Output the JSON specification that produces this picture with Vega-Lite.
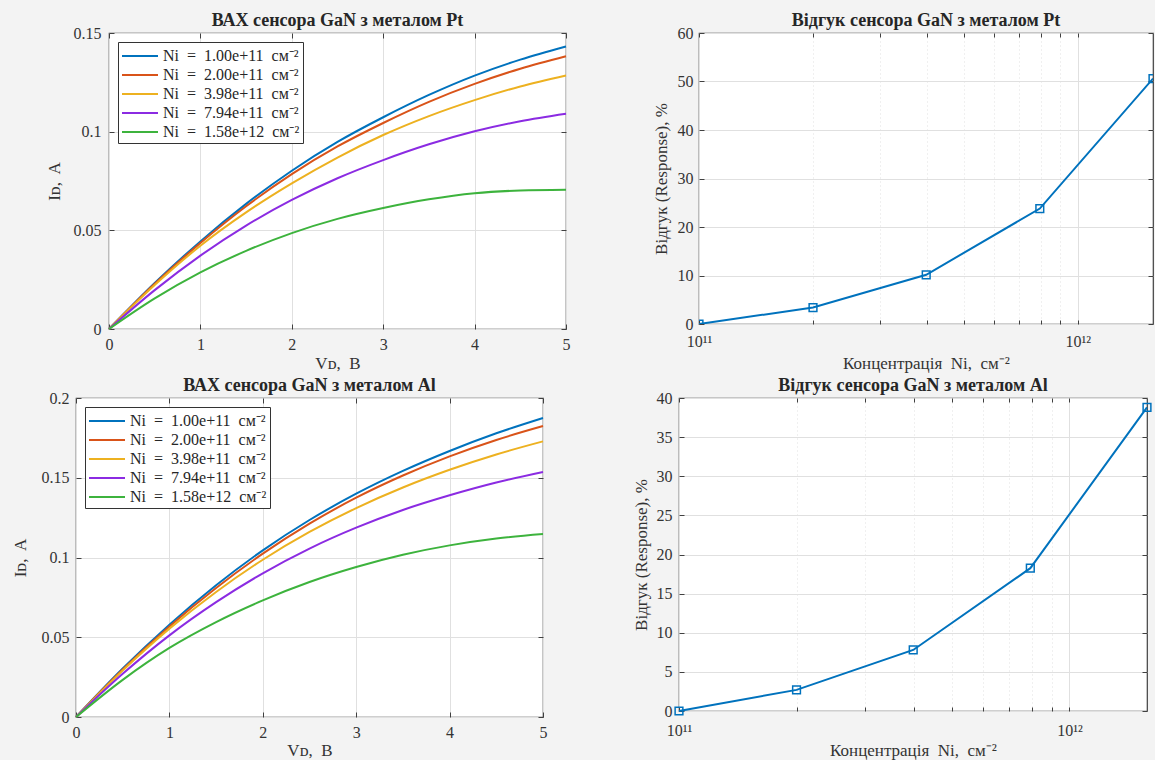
{
  "$schema": "https://vega.github.io/schema/vega-lite/v6.json",
  "padding": {"left": 9, "top": 11, "right": 0, "bottom": 0},
  "background": "#f3f3f3",
  "datasets": {
    "pt": [
      {"Ni": "1.00e+11", "V": 0, "I": 0}, {"Ni": "1.00e+11", "V": 0.5, "I": 0.0233}, {"Ni": "1.00e+11", "V": 1, "I": 0.0444}, {"Ni": "1.00e+11", "V": 1.5, "I": 0.0634}, {"Ni": "1.00e+11", "V": 2, "I": 0.0802}, {"Ni": "1.00e+11", "V": 2.5, "I": 0.0948}, {"Ni": "1.00e+11", "V": 3, "I": 0.1073}, {"Ni": "1.00e+11", "V": 3.5, "I": 0.1186}, {"Ni": "1.00e+11", "V": 4, "I": 0.1284}, {"Ni": "1.00e+11", "V": 4.5, "I": 0.1365}, {"Ni": "1.00e+11", "V": 5, "I": 0.1432},
      {"Ni": "2.00e+11", "V": 0, "I": 0}, {"Ni": "2.00e+11", "V": 0.5, "I": 0.0229}, {"Ni": "2.00e+11", "V": 1, "I": 0.0436}, {"Ni": "2.00e+11", "V": 1.5, "I": 0.0622}, {"Ni": "2.00e+11", "V": 2, "I": 0.0785}, {"Ni": "2.00e+11", "V": 2.5, "I": 0.0925}, {"Ni": "2.00e+11", "V": 3, "I": 0.1044}, {"Ni": "2.00e+11", "V": 3.5, "I": 0.1151}, {"Ni": "2.00e+11", "V": 4, "I": 0.1242}, {"Ni": "2.00e+11", "V": 4.5, "I": 0.1319}, {"Ni": "2.00e+11", "V": 5, "I": 0.1382},
      {"Ni": "3.98e+11", "V": 0, "I": 0}, {"Ni": "3.98e+11", "V": 0.5, "I": 0.0223}, {"Ni": "3.98e+11", "V": 1, "I": 0.0422}, {"Ni": "3.98e+11", "V": 1.5, "I": 0.0591}, {"Ni": "3.98e+11", "V": 2, "I": 0.0738}, {"Ni": "3.98e+11", "V": 2.5, "I": 0.0869}, {"Ni": "3.98e+11", "V": 3, "I": 0.0983}, {"Ni": "3.98e+11", "V": 3.5, "I": 0.1079}, {"Ni": "3.98e+11", "V": 4, "I": 0.1160}, {"Ni": "3.98e+11", "V": 4.5, "I": 0.1229}, {"Ni": "3.98e+11", "V": 5, "I": 0.1285},
      {"Ni": "7.94e+11", "V": 0, "I": 0}, {"Ni": "7.94e+11", "V": 0.5, "I": 0.0197}, {"Ni": "7.94e+11", "V": 1, "I": 0.0372}, {"Ni": "7.94e+11", "V": 1.5, "I": 0.0524}, {"Ni": "7.94e+11", "V": 2, "I": 0.0654}, {"Ni": "7.94e+11", "V": 2.5, "I": 0.0764}, {"Ni": "7.94e+11", "V": 3, "I": 0.0856}, {"Ni": "7.94e+11", "V": 3.5, "I": 0.0936}, {"Ni": "7.94e+11", "V": 4, "I": 0.1002}, {"Ni": "7.94e+11", "V": 4.5, "I": 0.1053}, {"Ni": "7.94e+11", "V": 5, "I": 0.1091},
      {"Ni": "1.58e+12", "V": 0, "I": 0}, {"Ni": "1.58e+12", "V": 0.5, "I": 0.0155}, {"Ni": "1.58e+12", "V": 1, "I": 0.0287}, {"Ni": "1.58e+12", "V": 1.5, "I": 0.0396}, {"Ni": "1.58e+12", "V": 2, "I": 0.0486}, {"Ni": "1.58e+12", "V": 2.5, "I": 0.0558}, {"Ni": "1.58e+12", "V": 3, "I": 0.0613}, {"Ni": "1.58e+12", "V": 3.5, "I": 0.0657}, {"Ni": "1.58e+12", "V": 4, "I": 0.0688}, {"Ni": "1.58e+12", "V": 4.5, "I": 0.0702}, {"Ni": "1.58e+12", "V": 5, "I": 0.0706}
    ],
    "al": [
      {"Ni": "1.00e+11", "V": 0, "I": 0}, {"Ni": "1.00e+11", "V": 0.5, "I": 0.0304}, {"Ni": "1.00e+11", "V": 1, "I": 0.0579}, {"Ni": "1.00e+11", "V": 1.5, "I": 0.0826}, {"Ni": "1.00e+11", "V": 2, "I": 0.1045}, {"Ni": "1.00e+11", "V": 2.5, "I": 0.1235}, {"Ni": "1.00e+11", "V": 3, "I": 0.1400}, {"Ni": "1.00e+11", "V": 3.5, "I": 0.1543}, {"Ni": "1.00e+11", "V": 4, "I": 0.1668}, {"Ni": "1.00e+11", "V": 4.5, "I": 0.1779}, {"Ni": "1.00e+11", "V": 5, "I": 0.1875},
      {"Ni": "2.00e+11", "V": 0, "I": 0}, {"Ni": "2.00e+11", "V": 0.5, "I": 0.0298}, {"Ni": "2.00e+11", "V": 1, "I": 0.0568}, {"Ni": "2.00e+11", "V": 1.5, "I": 0.0809}, {"Ni": "2.00e+11", "V": 2, "I": 0.1024}, {"Ni": "2.00e+11", "V": 2.5, "I": 0.1212}, {"Ni": "2.00e+11", "V": 3, "I": 0.1375}, {"Ni": "2.00e+11", "V": 3.5, "I": 0.1514}, {"Ni": "2.00e+11", "V": 4, "I": 0.1634}, {"Ni": "2.00e+11", "V": 4.5, "I": 0.1737}, {"Ni": "2.00e+11", "V": 5, "I": 0.1824},
      {"Ni": "3.98e+11", "V": 0, "I": 0}, {"Ni": "3.98e+11", "V": 0.5, "I": 0.0292}, {"Ni": "3.98e+11", "V": 1, "I": 0.0554}, {"Ni": "3.98e+11", "V": 1.5, "I": 0.0784}, {"Ni": "3.98e+11", "V": 2, "I": 0.0986}, {"Ni": "3.98e+11", "V": 2.5, "I": 0.1160}, {"Ni": "3.98e+11", "V": 3, "I": 0.1310}, {"Ni": "3.98e+11", "V": 3.5, "I": 0.1439}, {"Ni": "3.98e+11", "V": 4, "I": 0.1550}, {"Ni": "3.98e+11", "V": 4.5, "I": 0.1646}, {"Ni": "3.98e+11", "V": 5, "I": 0.1728},
      {"Ni": "7.94e+11", "V": 0, "I": 0}, {"Ni": "7.94e+11", "V": 0.5, "I": 0.0271}, {"Ni": "7.94e+11", "V": 1, "I": 0.0512}, {"Ni": "7.94e+11", "V": 1.5, "I": 0.0720}, {"Ni": "7.94e+11", "V": 2, "I": 0.0901}, {"Ni": "7.94e+11", "V": 2.5, "I": 0.1056}, {"Ni": "7.94e+11", "V": 3, "I": 0.1187}, {"Ni": "7.94e+11", "V": 3.5, "I": 0.1298}, {"Ni": "7.94e+11", "V": 4, "I": 0.1390}, {"Ni": "7.94e+11", "V": 4.5, "I": 0.1470}, {"Ni": "7.94e+11", "V": 5, "I": 0.1536},
      {"Ni": "1.58e+12", "V": 0, "I": 0}, {"Ni": "1.58e+12", "V": 0.5, "I": 0.0233}, {"Ni": "1.58e+12", "V": 1, "I": 0.0433}, {"Ni": "1.58e+12", "V": 1.5, "I": 0.0595}, {"Ni": "1.58e+12", "V": 2, "I": 0.0731}, {"Ni": "1.58e+12", "V": 2.5, "I": 0.0846}, {"Ni": "1.58e+12", "V": 3, "I": 0.0940}, {"Ni": "1.58e+12", "V": 3.5, "I": 0.1017}, {"Ni": "1.58e+12", "V": 4, "I": 0.1076}, {"Ni": "1.58e+12", "V": 4.5, "I": 0.1119}, {"Ni": "1.58e+12", "V": 5, "I": 0.1147}
    ],
    "rpt": [
      {"N": 1e11, "R": 0}, {"N": 2e11, "R": 3.4}, {"N": 3.98e11, "R": 10.15}, {"N": 7.94e11, "R": 23.8}, {"N": 1.58e12, "R": 50.6}
    ],
    "ral": [
      {"N": 1e11, "R": 0}, {"N": 2e11, "R": 2.7}, {"N": 3.98e11, "R": 7.8}, {"N": 7.94e11, "R": 18.25}, {"N": 1.58e12, "R": 38.8}
    ],
    "none": []
  },
  "columns": 2,
  "align": "none",
  "spacing": {"row": 4, "column": 0},
  "resolve": {"scale": {"color": "independent"}, "legend": {"color": "independent"}},
  "concat": [
    {
      "width": 1, "height": 1,
      "data": {"name": "none"},
      "mark": "point",
      "encoding": {},
      "view": {"stroke": null, "fill": null}
    },
    {
      "spacing": 80,
      "resolve": {"scale": {"color": "independent"}, "legend": {"color": "independent"}},
      "hconcat": [
        {
          "width": 457, "height": 296,
          "title": {"text": "ВАХ сенсора GaN з металом Pt"},
          "data": {"name": "pt"},
          "layer": [
            {
              "mark": {"type": "line", "strokeWidth": 2, "interpolate": "monotone"},
              "encoding": {
                "x": {"field": "V", "type": "quantitative", "scale": {"domain": [0, 5], "nice": false},
                  "axis": {"values": [0, 1, 2, 3, 4, 5], "title": "Vᴅ,\u00a0 B", "labelFlush": false, "titlePadding": 3}},
                "y": {"field": "I", "type": "quantitative", "scale": {"domain": [0, 0.15], "nice": false},
                  "axis": {"values": [0, 0.05, 0.1, 0.15], "labelExpr": "'' + datum.value", "title": "Iᴅ,\u00a0 A", "labelPadding": 13, "minExtent": 98, "maxExtent": 98, "titleX": -46, "titleY": 148}},
                "color": {"field": "Ni", "type": "nominal",
                  "scale": {"domain": ["1.00e+11", "2.00e+11", "3.98e+11", "7.94e+11", "1.58e+12"], "range": ["#0072BD", "#D95319", "#EDB120", "#8B2BE2", "#3DB33D"]},
                  "legend": {"title": null, "orient": "top-left", "offset": 9, "labelExpr": "'Ni\u00a0 =\u00a0 ' + datum.label + '\u00a0 см⁻²'"}}
              }
            },
            {
              "mark": {"type": "line", "opacity": 0},
              "encoding": {
                "x": {"field": "V", "type": "quantitative", "scale": {"domain": [0, 5], "nice": false},
                  "axis": {"orient": "top", "values": [0, 1, 2, 3, 4, 5], "labels": false, "grid": false, "title": null, "minExtent": 0, "maxExtent": 0}},
                "y": {"field": "I", "type": "quantitative", "scale": {"domain": [0, 0.15], "nice": false},
                  "axis": {"orient": "right", "values": [0, 0.05, 0.1, 0.15], "labels": false, "grid": false, "title": null, "minExtent": 0, "maxExtent": 0}}
              }
            }
          ],
          "resolve": {"axis": {"x": "independent", "y": "independent"}}
        },
        {
          "width": 454, "height": 291,
          "title": {"text": "Відгук сенсора GaN з металом Pt"},
          "data": {"name": "rpt"},
          "layer": [
            {
              "mark": {"type": "line", "color": "#0072BD", "strokeWidth": 2, "clip": true},
              "encoding": {
                "x": {"field": "N", "type": "quantitative", "scale": {"type": "log", "domain": [1e11, 1.58e12], "nice": false},
                  "axis": {"values": [1e11, 2e11, 3e11, 4e11, 5e11, 6e11, 7e11, 8e11, 9e11, 1e12], "labelExpr": "datum.value === 1e11 ? '10¹¹' : (datum.value === 1e12 ? '10¹²' : '')", "labelOverlap": false, "labelFlush": false, "labelPadding": 13, "titlePadding": 6, "tickSize": -4, "title": "Концентрація\u00a0 Ni,\u00a0 см⁻²",
                    "gridDash": {"condition": {"test": "datum.value === 1e11 || datum.value === 1e12", "value": []}, "value": [1, 3]}}},
                "y": {"field": "R", "type": "quantitative", "scale": {"domain": [0, 60], "nice": false},
                  "axis": {"values": [0, 10, 20, 30, 40, 50, 60], "title": "Відгук (Response), %", "labelPadding": 11, "minExtent": 24, "maxExtent": 24, "titlePadding": 5}}
              }
            },
            {
              "mark": {"type": "point", "shape": "square", "filled": false, "size": 60, "strokeWidth": 1.5, "color": "#0072BD", "opacity": 1, "clip": true},
              "encoding": {
                "x": {"field": "N", "type": "quantitative", "scale": {"type": "log", "domain": [1e11, 1.58e12], "nice": false},
                  "axis": {"orient": "top", "values": [1e11, 2e11, 3e11, 4e11, 5e11, 6e11, 7e11, 8e11, 9e11, 1e12], "labels": false, "grid": false, "title": null, "tickSize": -4, "minExtent": 0, "maxExtent": 0}},
                "y": {"field": "R", "type": "quantitative", "scale": {"domain": [0, 60], "nice": false},
                  "axis": {"orient": "right", "values": [0, 10, 20, 30, 40, 50, 60], "labels": false, "grid": false, "title": null, "minExtent": 0, "maxExtent": 0}}
              }
            }
          ],
          "resolve": {"axis": {"x": "independent", "y": "independent"}}
        }
      ]
    },
    {
      "width": 1, "height": 1,
      "data": {"name": "none"},
      "mark": "point",
      "encoding": {},
      "view": {"stroke": null, "fill": null}
    },
    {
      "spacing": 83,
      "resolve": {"scale": {"color": "independent"}, "legend": {"color": "independent"}},
      "hconcat": [
        {
          "width": 467, "height": 319,
          "title": {"text": "ВАХ сенсора GaN з металом Al"},
          "data": {"name": "al"},
          "layer": [
            {
              "mark": {"type": "line", "strokeWidth": 2, "interpolate": "monotone"},
              "encoding": {
                "x": {"field": "V", "type": "quantitative", "scale": {"domain": [0, 5], "nice": false},
                  "axis": {"values": [0, 1, 2, 3, 4, 5], "title": "Vᴅ,\u00a0 B", "labelFlush": false, "titlePadding": 2}},
                "y": {"field": "I", "type": "quantitative", "scale": {"domain": [0, 0.2], "nice": false},
                  "axis": {"values": [0, 0.05, 0.1, 0.15, 0.2], "labelExpr": "'' + datum.value", "title": "Iᴅ,\u00a0 A", "labelPadding": 12, "minExtent": 36, "maxExtent": 36, "titlePadding": 11}},
                "color": {"field": "Ni", "type": "nominal",
                  "scale": {"domain": ["1.00e+11", "2.00e+11", "3.98e+11", "7.94e+11", "1.58e+12"], "range": ["#0072BD", "#D95319", "#EDB120", "#8B2BE2", "#3DB33D"]},
                  "legend": {"title": null, "orient": "top-left", "offset": 9, "labelExpr": "'Ni\u00a0 =\u00a0 ' + datum.label + '\u00a0 см⁻²'"}}
              }
            },
            {
              "mark": {"type": "line", "opacity": 0},
              "encoding": {
                "x": {"field": "V", "type": "quantitative", "scale": {"domain": [0, 5], "nice": false},
                  "axis": {"orient": "top", "values": [0, 1, 2, 3, 4, 5], "labels": false, "grid": false, "title": null, "minExtent": 0, "maxExtent": 0}},
                "y": {"field": "I", "type": "quantitative", "scale": {"domain": [0, 0.2], "nice": false},
                  "axis": {"orient": "right", "values": [0, 0.05, 0.1, 0.15, 0.2], "labels": false, "grid": false, "title": null, "minExtent": 0, "maxExtent": 0}}
              }
            }
          ],
          "resolve": {"axis": {"x": "independent", "y": "independent"}}
        },
        {
          "width": 468, "height": 313,
          "title": {"text": "Відгук сенсора GaN з металом Al"},
          "data": {"name": "ral"},
          "layer": [
            {
              "mark": {"type": "line", "color": "#0072BD", "strokeWidth": 2},
              "encoding": {
                "x": {"field": "N", "type": "quantitative", "scale": {"type": "log", "domain": [1e11, 1.58e12], "nice": false},
                  "axis": {"values": [1e11, 2e11, 3e11, 4e11, 5e11, 6e11, 7e11, 8e11, 9e11, 1e12], "labelExpr": "datum.value === 1e11 ? '10¹¹' : (datum.value === 1e12 ? '10¹²' : '')", "labelOverlap": false, "labelFlush": false, "labelPadding": 15, "titlePadding": 4.5, "tickSize": -4, "title": "Концентрація\u00a0 Ni,\u00a0 см⁻²",
                    "gridDash": {"condition": {"test": "datum.value === 1e11 || datum.value === 1e12", "value": []}, "value": [1, 3]}}},
                "y": {"field": "R", "type": "quantitative", "scale": {"domain": [0, 40], "nice": false},
                  "axis": {"values": [0, 5, 10, 15, 20, 25, 30, 35, 40], "title": "Відгук (Response), %", "labelPadding": 12, "minExtent": 24, "maxExtent": 24, "titlePadding": 4.5}}
              }
            },
            {
              "mark": {"type": "point", "shape": "square", "filled": false, "size": 60, "strokeWidth": 1.5, "color": "#0072BD", "opacity": 1},
              "encoding": {
                "x": {"field": "N", "type": "quantitative", "scale": {"type": "log", "domain": [1e11, 1.58e12], "nice": false},
                  "axis": {"orient": "top", "values": [1e11, 2e11, 3e11, 4e11, 5e11, 6e11, 7e11, 8e11, 9e11, 1e12], "labels": false, "grid": false, "title": null, "tickSize": -4, "minExtent": 0, "maxExtent": 0}},
                "y": {"field": "R", "type": "quantitative", "scale": {"domain": [0, 40], "nice": false},
                  "axis": {"orient": "right", "values": [0, 5, 10, 15, 20, 25, 30, 35, 40], "labels": false, "grid": false, "title": null, "minExtent": 0, "maxExtent": 0}}
              }
            }
          ],
          "resolve": {"axis": {"x": "independent", "y": "independent"}}
        }
      ]
    }
  ],
  "config": {
    "font": "Liberation Serif",
    "view": {"fill": "white", "stroke": "#404040", "strokeWidth": 1.2},
    "axis": {"domain": false, "labelFont": "Liberation Serif", "labelFontSize": 16, "labelColor": "#333333", "titleFont": "Liberation Serif", "titleFontSize": 17, "titleFontWeight": "normal", "titleColor": "#333333", "tickColor": "#404040", "tickSize": -5, "gridColor": "#e0e0e0", "gridWidth": 1, "labelPadding": 12},
    "title": {"font": "Liberation Serif", "fontSize": 18, "fontWeight": "bold", "color": "#262626", "offset": -5},
    "legend": {"padding": 3, "rowPadding": 0, "strokeColor": "#333333", "fillColor": "white", "labelFont": "Liberation Serif", "labelFontSize": 16, "labelColor": "#262626", "symbolType": "M-1,0H2.6", "symbolSize": 400, "symbolStrokeWidth": 2, "labelOffset": 20, "cornerRadius": 0}
  }
}
